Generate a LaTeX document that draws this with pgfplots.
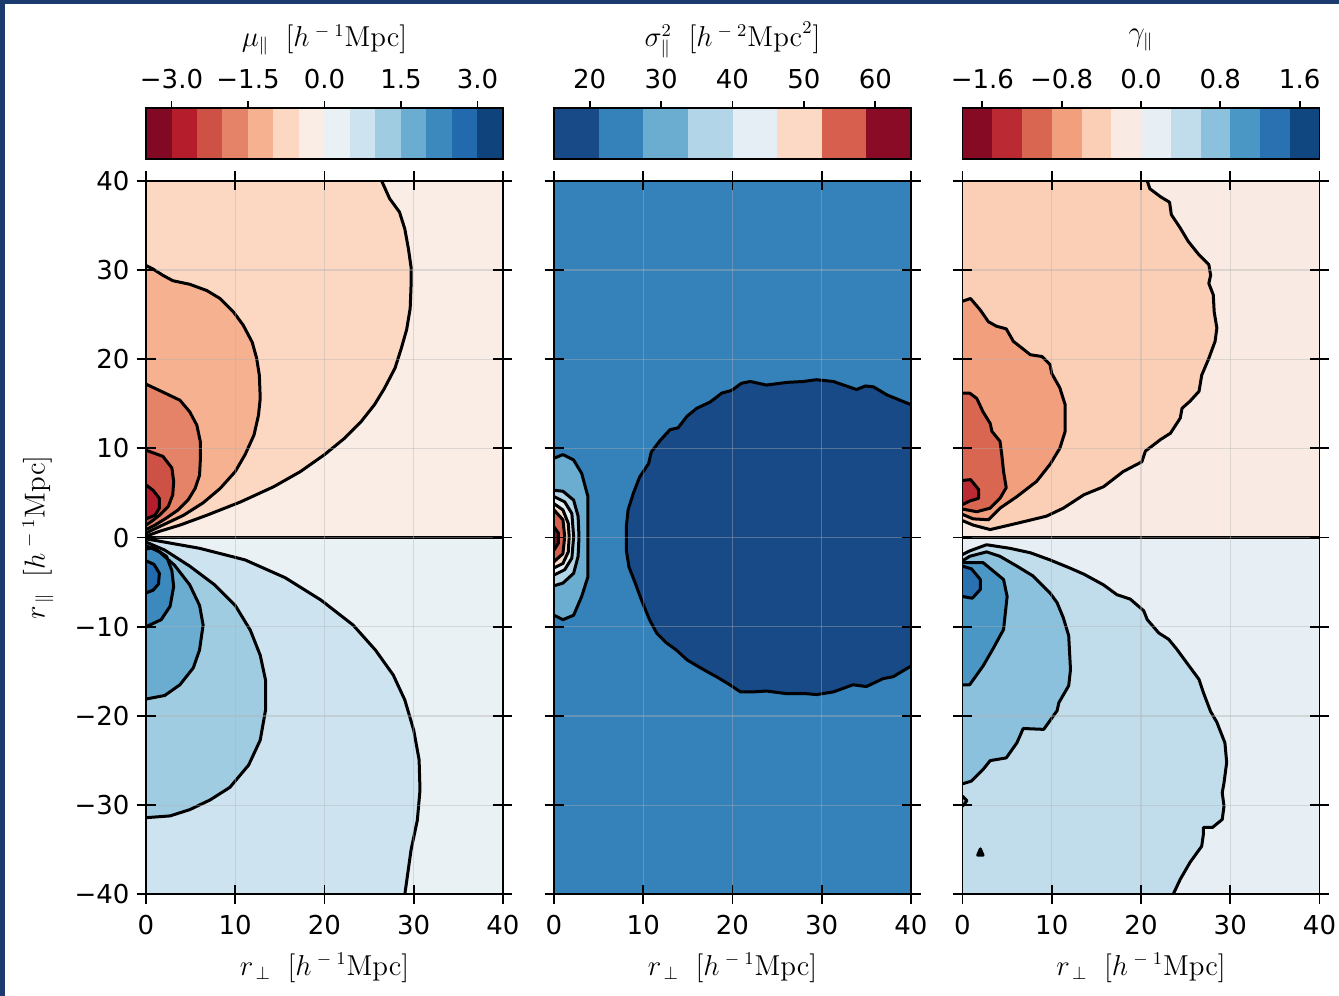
\documentclass[border=0pt]{standalone}
\usepackage[no-math]{fontspec}
\setmainfont{DejaVu Sans}
\usepackage{pgfplots}
\usepackage{pgfplotstable}
\pgfplotsset{compat=1.18}
% panel 1 colours (RdBu, 14 levels)
\definecolor{a1}{HTML}{820923}\definecolor{a2}{HTML}{B51D2D}\definecolor{a3}{HTML}{CE5146}
\definecolor{a4}{HTML}{E58368}\definecolor{a5}{HTML}{F6B191}\definecolor{a6}{HTML}{FCD7C2}
\definecolor{a7}{HTML}{F9EDE6}\definecolor{a8}{HTML}{E9F1F5}\definecolor{a9}{HTML}{CDE3EF}
\definecolor{a10}{HTML}{A0CCE2}\definecolor{a11}{HTML}{6BACD1}\definecolor{a12}{HTML}{3C89BE}
\definecolor{a13}{HTML}{2369AE}\definecolor{a14}{HTML}{0F437C}
% panel 2 colours
\definecolor{b1}{HTML}{174A86}\definecolor{b2}{HTML}{3581BA}\definecolor{b3}{HTML}{6BACD1}
\definecolor{b4}{HTML}{B2D5E7}\definecolor{b5}{HTML}{E4EEF4}\definecolor{b6}{HTML}{FCD9C5}
\definecolor{b7}{HTML}{D6604D}\definecolor{b8}{HTML}{890B25}
% panel 3 colours (12 levels)
\definecolor{c1}{HTML}{860A24}\definecolor{c2}{HTML}{BB2A33}\definecolor{c3}{HTML}{D96651}
\definecolor{c4}{HTML}{F29F7E}\definecolor{c5}{HTML}{FBCEB6}\definecolor{c6}{HTML}{F9EBE3}
\definecolor{c7}{HTML}{E7EFF4}\definecolor{c8}{HTML}{C1DDEB}\definecolor{c9}{HTML}{8BC1DC}
\definecolor{c10}{HTML}{4A97C5}\definecolor{c11}{HTML}{2A71B2}\definecolor{c12}{HTML}{114780}
\definecolor{navy}{HTML}{1B3B6F}

\pgfplotsset{
  cl/.style={black, line width=1.5pt, line join=round, line cap=round},
  ff/.style={draw=none, fill=#1},
  mainax/.style={width=178.5pt, height=356.8pt, scale only axis,
    xmin=0, xmax=40, ymin=-40, ymax=40,
    xtick={0,10,20,30,40}, xticklabels={0,10,20,30,40},
    ytick={-40,-30,-20,-10,0,10,20,30,40},
    tick align=center, major tick length=9.5pt,
    every tick/.style={black, line width=0.9pt},
    axis line style={line width=0.9pt},
    grid=major, grid style={line width=0.6pt, draw=gray!60, opacity=0.4},
    axis on top,
    tick label style={font=\fontsize{13}{15}\selectfont},
    xticklabel style={yshift=-2pt},
  },
  cbar/.style={width=178.5pt, height=25.5pt, scale only axis,
    ymin=0, ymax=1, ytick=\empty,
    xtick pos=right, xticklabel pos=right,
    tick align=outside, major tick length=3.5pt,
    every tick/.style={black, line width=0.9pt},
    axis line style={line width=0.9pt},
    axis on top,
    tick label style={font=\fontsize{13}{15}\selectfont},
    xticklabel style={yshift=2.5pt},
  },
}
\newcommand{\lab}{\fontsize{13.5}{16}\selectfont}

% ---------- panel 1 contours ----------
\pgfplotstableread{
x y
0 40
26.4 40
27.3 38.0
28.4 36.5
29.0 34.6
29.4 32.4
29.7 30.3
29.7 28.3
29.6 25.7
29.2 23.3
28.6 21.2
27.9 19.0
26.7 16.7
25.6 14.9
24.1 13.0
22.2 11.1
20.0 9.3
17.3 7.4
14.3 5.7
10.6 4.0
6.8 2.5
3.8 1.4
1.5 0.7
0 0.15
}\Aa
\pgfplotstableread{
x y
0 30.5
0.8 30.1
1.9 29.4
3.0 28.8
4.9 28.4
6.8 27.7
8.3 26.8
9.8 25.3
10.9 23.8
11.9 21.9
12.4 20.1
12.7 18.2
12.8 15.6
12.6 13.7
12.1 11.5
11.1 9.3
10.0 7.4
8.3 5.5
6.4 3.9
4.2 2.5
2.3 1.6
0.8 0.9
0 0.5
}\Ab
\pgfplotstableread{
x y
0 17.2
1.5 16.5
3.8 15.4
4.9 14.1
5.7 12.6
6.1 10.7
6.1 8.9
6.0 7.0
5.5 5.5
4.7 4.2
3.6 3.1
2.3 2.2
1.0 1.4
0 0.9
}\Ac
\pgfplotstableread{
x y
0 9.8
1.9 9.1
2.9 7.8
3.1 6.3
3.0 4.8
2.5 3.5
1.5 2.5
0.6 1.8
0 1.4
}\Ad
\pgfplotstableread{
x y
0 5.9
0.8 5.3
1.5 4.4
1.5 3.3
1.0 2.5
0 2.1
}\Ae
\pgfplotstableread{
x y
0 -40
29.0 -40
29.7 -35.0
30.4 -31.7
30.7 -28.3
30.6 -24.9
30.0 -21.6
29.0 -18.2
27.7 -15.4
25.7 -12.6
23.2 -9.8
19.6 -7.0
15.6 -4.5
11.1 -2.5
6.0 -1.2
1.5 -0.4
0 -0.15
}\Ba
\pgfplotstableread{
x y
0 -31.4
2.7 -31.2
4.9 -30.5
7.2 -29.4
9.4 -28.0
11.5 -25.5
12.8 -22.7
13.4 -19.3
13.4 -16.0
12.8 -13.2
11.7 -10.4
10.0 -7.6
7.7 -5.3
4.9 -3.2
2.1 -1.4
0 -0.5
}\Bb
\pgfplotstableread{
x y
0 -18.1
2.1 -17.7
3.8 -16.5
5.3 -14.6
6.0 -12.6
6.4 -9.8
6.0 -7.6
4.9 -5.3
3.2 -3.1
1.5 -1.6
0 -0.9
}\Bc
\pgfplotstableread{
x y
0 -10.0
1.7 -9.2
2.7 -7.7
3.1 -5.5
2.9 -3.7
2.3 -2.1
0.8 -1.1
0 -1.3
}\Bd
\pgfplotstableread{
x y
0 -2.6
0.9 -3.0
1.5 -4.0
1.4 -5.2
0.8 -5.9
0 -6.2
}\Be
% ---------- panel 2 contours ----------
\pgfplotstableread{
x y
40 14.9
37.3 16.0
35.8 16.9
34.9 17.0
33.9 16.6
31.3 17.5
29.4 17.7
27.9 17.5
26.1 17.4
23.8 17.1
22.0 17.5
21.0 17.3
19.9 16.5
18.8 16.2
17.5 15.2
16.0 14.5
14.9 13.6
13.9 12.3
13.0 12.1
11.9 10.9
10.9 9.6
10.6 8.3
9.6 6.8
8.9 5.0
8.3 3.1
8.1 1.2
8.1 -1.4
8.4 -3.3
9.1 -5.1
9.8 -7.0
10.7 -9.2
11.5 -10.7
12.6 -11.8
13.7 -12.6
14.9 -13.7
16.4 -14.6
18.2 -15.6
19.7 -16.5
20.9 -17.3
22.3 -17.3
23.8 -17.2
26.1 -17.5
28.3 -17.5
29.4 -17.6
31.3 -17.3
33.5 -16.5
35.0 -16.7
36.9 -15.8
38.0 -15.6
40 -14.4
}\Ca
\pgfplotstableread{
x y
0 8.9
1.0 9.3
2.2 8.7
3.1 7.2
3.8 4.6
3.8 -4.4
3.1 -6.6
2.2 -8.7
1.0 -9.2
0 -8.7
}\Cb
\pgfplotstableread{
x y
0 5.3
1.0 5.2
2.2 4.2
2.7 2.4
2.8 0.1
2.7 -2.1
2.2 -4.0
1.0 -5.1
0 -5.4
}\Cc
\pgfplotstableread{
x y
0 4.6
1.2 4.0
2.0 2.7
2.2 0.1
2.0 -2.3
1.2 -3.6
0 -4.2
}\Cd
\pgfplotstableread{
x y
0 3.8
1.0 3.1
1.6 1.6
1.7 0.1
1.6 -1.6
1.0 -2.9
0 -3.4
}\Ce
\pgfplotstableread{
x y
0 3.1
1.0 2.0
1.2 0.1
1.0 -1.8
0 -2.7
}\Cf
\pgfplotstableread{
x y
0 1.2
0.5 0.5
0.5 -0.6
0 -1.4
}\Cg
% ---------- panel 3 contours ----------
\pgfplotstableread{
x y
0 40
20.7 40
21.0 39.1
22.2 38.2
23.2 37.6
23.4 36.2
24.4 34.7
25.3 33.2
26.5 31.7
27.6 30.6
27.8 29.4
27.6 28.5
28.1 27.2
28.2 25.3
28.5 23.5
28.3 22.0
27.6 20.1
26.8 18.2
26.5 16.4
25.5 15.3
24.6 14.5
24.4 13.4
23.3 11.7
22.2 11.0
20.5 9.7
20.1 8.5
18.0 7.4
15.8 5.7
13.6 4.8
11.3 3.3
9.4 2.4
6.1 1.6
3.1 0.9
1.2 1.4
0 1.9
}\Da
\pgfplotstableread{
x y
0 26.5
0.9 26.8
2.0 25.5
2.9 24.2
3.8 23.7
4.9 23.4
5.7 22.0
7.6 20.5
8.9 20.3
9.8 19.4
10.0 18.4
10.9 16.8
11.5 14.9
11.5 11.9
10.9 10.0
9.8 8.2
8.3 6.3
6.1 4.6
4.2 3.3
2.9 2.0
1.2 2.1
0 2.6
}\Db
\pgfplotstableread{
x y
0 16.2
0.8 16.2
1.6 15.6
2.3 14.1
3.1 12.8
3.3 11.9
4.2 10.8
4.4 9.3
4.6 7.4
4.9 5.6
4.2 4.4
3.1 3.3
1.6 2.9
0 3.2
}\Dc
\pgfplotstableread{
x y
0 6.4
0.9 6.5
1.8 5.4
1.8 4.4
0.8 4.1
0 3.7
}\Dd
\pgfplotstableread{
x y
0 -40
23.6 -40
24.4 -38.3
25.5 -36.4
26.8 -34.6
27.0 -33.2
27.0 -32.5
28.0 -32.5
29.1 -31.6
29.3 -30.1
29.1 -28.6
29.3 -27.5
29.6 -25.2
29.4 -23.0
28.5 -20.7
27.8 -19.5
27.0 -17.4
26.5 -15.9
25.1 -14.0
24.0 -12.5
23.1 -11.4
22.0 -10.7
20.7 -9.2
20.3 -8.2
18.8 -6.9
17.3 -6.4
15.8 -5.3
13.6 -4.1
12.0 -3.4
9.8 -2.5
7.6 -1.7
5.3 -1.2
2.7 -0.8
1.6 -1.2
0.8 -1.5
0 -1.9
}\Ea
\pgfplotstableread{
x y
0 -2.6
0.8 -2.1
2.7 -1.6
4.2 -2.1
6.1 -3.2
7.9 -4.3
9.8 -6.2
10.6 -7.3
11.3 -9.0
11.9 -11.0
12.1 -14.8
11.9 -16.6
10.8 -18.5
10.6 -19.4
9.1 -21.5
6.8 -21.4
6.1 -23.0
4.9 -24.7
3.1 -25.0
2.3 -26.0
1.0 -27.3
0 -27.6
}\Eb
\pgfplotstableread{
x y
0 -2.8
2.3 -2.8
4.6 -4.7
5.0 -6.6
4.6 -10.3
3.4 -12.5
2.3 -14.4
0.8 -16.5
0 -16.5
}\Ec
\pgfplotstableread{
x y
0 -3.2
1.0 -3.5
2.0 -4.7
2.0 -5.8
1.1 -6.8
0 -6.6
}\Ed
\pgfplotstableread{
x y
0 -29.0
0.5 -29.5
0 -30.1
}\Ee
\pgfplotstableread{
x y
1.7 -35.6
2.0 -34.9
2.3 -35.6
}\Ef

\begin{document}
\begin{tikzpicture}
\useasboundingbox (0pt,0pt) rectangle (669.5pt,498pt);
\fill[white] (0pt,0pt) rectangle (669.5pt,498pt);
\fill[navy] (0pt,0pt) rectangle (2.5pt,498pt);
\fill[navy] (0pt,496pt) rectangle (669.5pt,498pt);

% ================= panel 1 =================
\begin{axis}[mainax, at={(73pt,50.8pt)}, anchor=south west,
  yticklabels={−40,−30,−20,−10,0,10,20,30,40}]
\addplot[ff=a7] coordinates {(0,0) (40,0) (40,40) (0,40)} -- cycle;
\addplot[ff=a8] coordinates {(0,0) (40,0) (40,-40) (0,-40)} -- cycle;
\addplot[ff=a6] table {\Aa} -- cycle;
\addplot[ff=a5] table {\Ab} -- cycle;
\addplot[ff=a4] table {\Ac} -- cycle;
\addplot[ff=a3] table {\Ad} -- cycle;
\addplot[ff=a2] table {\Ae} -- cycle;
\addplot[ff=a9] table {\Ba} -- cycle;
\addplot[ff=a10] table {\Bb} -- cycle;
\addplot[ff=a11] table {\Bc} -- cycle;
\addplot[ff=a12] table {\Bd} -- cycle;
\addplot[ff=a13] table {\Be} -- cycle;
\addplot[cl, skip coords between index={0}{1}] table {\Aa};
\addplot[cl] table {\Ab};
\addplot[cl] table {\Ac};
\addplot[cl] table {\Ad};
\addplot[cl] table {\Ae};
\addplot[cl, skip coords between index={0}{1}] table {\Ba};
\addplot[cl] table {\Bb};
\addplot[cl] table {\Bc};
\addplot[cl] table {\Bd};
\addplot[cl] table {\Be};
\addplot[cl] coordinates {(0,0) (40,0)};
\end{axis}

% ================= panel 2 =================
\begin{axis}[mainax, at={(277pt,50.8pt)}, anchor=south west, yticklabels={}]
\addplot[ff=b2] coordinates {(0,-40) (40,-40) (40,40) (0,40)} -- cycle;
\addplot[ff=b1] table {\Ca} -- cycle;
\addplot[ff=b3] table {\Cb} -- cycle;
\addplot[ff=b4] table {\Cc} -- cycle;
\addplot[ff=b5] table {\Cd} -- cycle;
\addplot[ff=b6] table {\Ce} -- cycle;
\addplot[ff=b7] table {\Cf} -- cycle;
\addplot[ff=b8] table {\Cg} -- cycle;
\addplot[cl] table {\Ca};
\addplot[cl] table {\Cb};
\addplot[cl] table {\Cc};
\addplot[cl] table {\Cd};
\addplot[cl] table {\Ce};
\addplot[cl] table {\Cf};
\addplot[cl] table {\Cg};
\end{axis}

% ================= panel 3 =================
\begin{axis}[mainax, at={(481.25pt,50.8pt)}, anchor=south west, yticklabels={}]
\addplot[ff=c6] coordinates {(0,0) (40,0) (40,40) (0,40)} -- cycle;
\addplot[ff=c7] coordinates {(0,0) (40,0) (40,-40) (0,-40)} -- cycle;
\addplot[ff=c5] table {\Da} -- cycle;
\addplot[ff=c4] table {\Db} -- cycle;
\addplot[ff=c3] table {\Dc} -- cycle;
\addplot[ff=c2] table {\Dd} -- cycle;
\addplot[ff=c8] table {\Ea} -- cycle;
\addplot[ff=c9] table {\Eb} -- cycle;
\addplot[ff=c10] table {\Ec} -- cycle;
\addplot[ff=c11] table {\Ed} -- cycle;
\addplot[ff=c9] table {\Ee} -- cycle;
\addplot[ff=c9] table {\Ef} -- cycle;
\addplot[cl, skip coords between index={0}{1}] table {\Da};
\addplot[cl] table {\Db};
\addplot[cl] table {\Dc};
\addplot[cl] table {\Dd};
\addplot[cl, skip coords between index={0}{1}] table {\Ea};
\addplot[cl] table {\Eb};
\addplot[cl] table {\Ec};
\addplot[cl] table {\Ed};
\addplot[cl] table {\Ee};
\addplot[cl] table {\Ef} -- cycle;
\addplot[cl] coordinates {(0,0) (40,0)};
\end{axis}

% ================= colour bars =================
\begin{axis}[cbar, at={(73pt,418.35pt)}, anchor=south west, xmin=-3.5, xmax=3.5,
  xtick={-3,-1.5,0,1.5,3}, xticklabels={−3.0,−1.5,0.0,1.5,3.0}]
\addplot[ff=a1] coordinates {(-3.5,0) (-2.98,0) (-2.98,1) (-3.5,1)} -- cycle;
\addplot[ff=a2] coordinates {(-3,0) (-2.48,0) (-2.48,1) (-3,1)} -- cycle;
\addplot[ff=a3] coordinates {(-2.5,0) (-1.98,0) (-1.98,1) (-2.5,1)} -- cycle;
\addplot[ff=a4] coordinates {(-2,0) (-1.48,0) (-1.48,1) (-2,1)} -- cycle;
\addplot[ff=a5] coordinates {(-1.5,0) (-0.98,0) (-0.98,1) (-1.5,1)} -- cycle;
\addplot[ff=a6] coordinates {(-1,0) (-0.48,0) (-0.48,1) (-1,1)} -- cycle;
\addplot[ff=a7] coordinates {(-0.5,0) (0.02,0) (0.02,1) (-0.5,1)} -- cycle;
\addplot[ff=a8] coordinates {(0,0) (0.52,0) (0.52,1) (0,1)} -- cycle;
\addplot[ff=a9] coordinates {(0.5,0) (1.02,0) (1.02,1) (0.5,1)} -- cycle;
\addplot[ff=a10] coordinates {(1,0) (1.52,0) (1.52,1) (1,1)} -- cycle;
\addplot[ff=a11] coordinates {(1.5,0) (2.02,0) (2.02,1) (1.5,1)} -- cycle;
\addplot[ff=a12] coordinates {(2,0) (2.52,0) (2.52,1) (2,1)} -- cycle;
\addplot[ff=a13] coordinates {(2.5,0) (3.02,0) (3.02,1) (2.5,1)} -- cycle;
\addplot[ff=a14] coordinates {(3,0) (3.5,0) (3.5,1) (3,1)} -- cycle;
\end{axis}

\begin{axis}[cbar, at={(277pt,418.35pt)}, anchor=south west, xmin=15, xmax=65,
  xtick={20,30,40,50,60}, xticklabels={20,30,40,50,60}]
\addplot[ff=b1] coordinates {(15,0) (21.4,0) (21.4,1) (15,1)} -- cycle;
\addplot[ff=b2] coordinates {(21.25,0) (27.65,0) (27.65,1) (21.25,1)} -- cycle;
\addplot[ff=b3] coordinates {(27.5,0) (33.9,0) (33.9,1) (27.5,1)} -- cycle;
\addplot[ff=b4] coordinates {(33.75,0) (40.15,0) (40.15,1) (33.75,1)} -- cycle;
\addplot[ff=b5] coordinates {(40,0) (46.4,0) (46.4,1) (40,1)} -- cycle;
\addplot[ff=b6] coordinates {(46.25,0) (52.65,0) (52.65,1) (46.25,1)} -- cycle;
\addplot[ff=b7] coordinates {(52.5,0) (58.9,0) (58.9,1) (52.5,1)} -- cycle;
\addplot[ff=b8] coordinates {(58.75,0) (65,0) (65,1) (58.75,1)} -- cycle;
\end{axis}

\begin{axis}[cbar, at={(481.25pt,418.35pt)}, anchor=south west, xmin=-1.8, xmax=1.8,
  xtick={-1.6,-0.8,0,0.8,1.6}, xticklabels={−1.6,−0.8,0.0,0.8,1.6}]
\addplot[ff=c1] coordinates {(-1.8,0) (-1.49,0) (-1.49,1) (-1.8,1)} -- cycle;
\addplot[ff=c2] coordinates {(-1.5,0) (-1.19,0) (-1.19,1) (-1.5,1)} -- cycle;
\addplot[ff=c3] coordinates {(-1.2,0) (-0.89,0) (-0.89,1) (-1.2,1)} -- cycle;
\addplot[ff=c4] coordinates {(-0.9,0) (-0.59,0) (-0.59,1) (-0.9,1)} -- cycle;
\addplot[ff=c5] coordinates {(-0.6,0) (-0.29,0) (-0.29,1) (-0.6,1)} -- cycle;
\addplot[ff=c6] coordinates {(-0.3,0) (0.01,0) (0.01,1) (-0.3,1)} -- cycle;
\addplot[ff=c7] coordinates {(0,0) (0.31,0) (0.31,1) (0,1)} -- cycle;
\addplot[ff=c8] coordinates {(0.3,0) (0.61,0) (0.61,1) (0.3,1)} -- cycle;
\addplot[ff=c9] coordinates {(0.6,0) (0.91,0) (0.91,1) (0.6,1)} -- cycle;
\addplot[ff=c10] coordinates {(0.9,0) (1.21,0) (1.21,1) (0.9,1)} -- cycle;
\addplot[ff=c11] coordinates {(1.2,0) (1.51,0) (1.51,1) (1.2,1)} -- cycle;
\addplot[ff=c12] coordinates {(1.5,0) (1.8,0) (1.8,1) (1.5,1)} -- cycle;
\end{axis}

% ================= labels =================
\node[inner sep=0pt] at (162.25pt,478pt) {\lab $\mu_{\parallel}\ \;[h^{\;-\;1}\mathrm{Mpc}]$};
\node[inner sep=0pt] at (366.25pt,478pt) {\lab $\sigma^2_{\parallel}\ \;[h^{\;-\;2}\mathrm{Mpc}^2]$};
\node[inner sep=0pt] at (570.5pt,478pt) {\lab $\gamma_{\parallel}$};
\node[inner sep=0pt] at (162.25pt,14pt) {\lab $r_{\,\perp}\ \;[h^{\;-\;1}\mathrm{Mpc}]$};
\node[inner sep=0pt] at (366.25pt,14pt) {\lab $r_{\,\perp}\ \;[h^{\;-\;1}\mathrm{Mpc}]$};
\node[inner sep=0pt] at (570.5pt,14pt) {\lab $r_{\,\perp}\ \;[h^{\;-\;1}\mathrm{Mpc}]$};
\node[inner sep=0pt, rotate=90] at (19pt,229.2pt) {\lab $r_{\,\parallel}\ \;[h^{\;-\;1}\mathrm{Mpc}]$};
\end{tikzpicture}
\end{document}
